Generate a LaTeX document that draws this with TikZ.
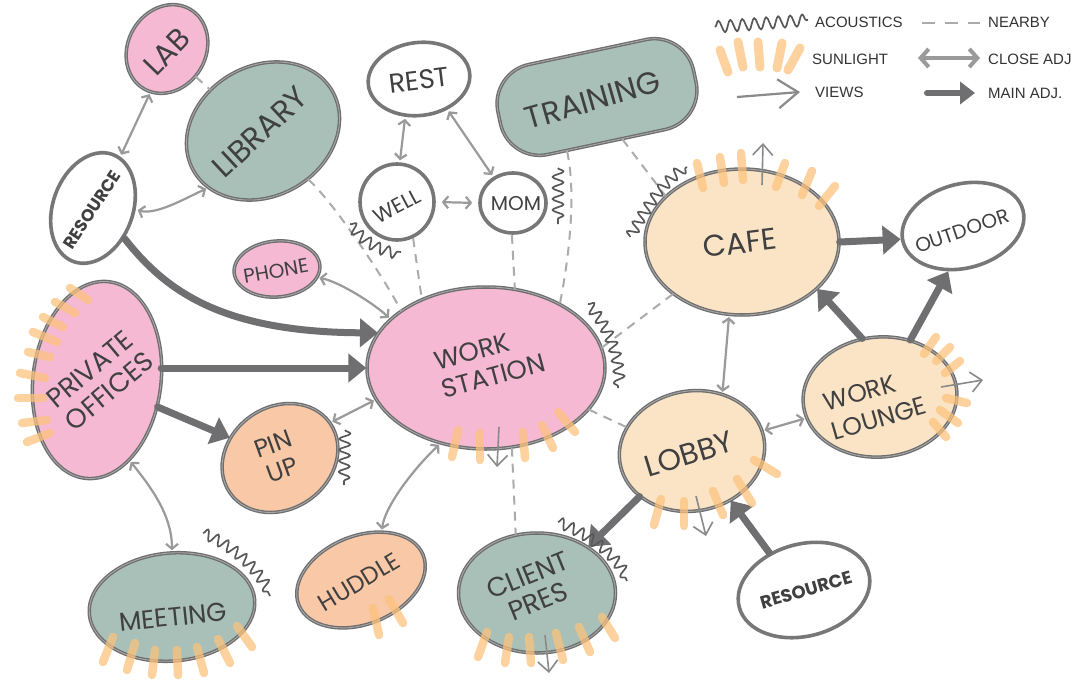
\documentclass[tikz,border=0pt]{standalone}
\usepackage{fontspec}
\setmainfont{Poppins}
\newfontfamily\legfont{Liberation Sans}
\usetikzlibrary{shapes.geometric,arrows.meta,decorations.pathmorphing,calc}
\definecolor{pinkf}{HTML}{F5B9D4}
\definecolor{sagef}{HTML}{A9C0B8}
\definecolor{peachf}{HTML}{FBE4C6}
\definecolor{orangef}{HTML}{F9C8A6}
\definecolor{olc}{HTML}{6E6E6E}
\definecolor{olc2}{HTML}{A8A8A8}
\definecolor{wol}{HTML}{777777}
\definecolor{suncol}{HTML}{FDC27A}
\definecolor{mcol}{HTML}{6F6F72}
\definecolor{ccol}{HTML}{9A9A9A}
\definecolor{ncol}{HTML}{ABABAB}
\definecolor{vcol}{HTML}{8A8A8A}
\definecolor{acol}{HTML}{585858}
\definecolor{tcol}{HTML}{404040}
\definecolor{legcol}{HTML}{333333}
\newcommand\fsz[2]{\fontsize{#1}{#2}\selectfont}
\begin{document}
\begin{tikzpicture}[x=1pt,y=-1pt,
  bub/.style={ellipse, inner sep=0pt, draw=olc, line width=1.3pt, double=olc2, double distance=0.9pt},
  wbub/.style={ellipse, inner sep=0pt, draw=wol, line width=3.6pt, fill=white},
  txt/.style={text=tcol, inner sep=0pt, align=center},
  legtxt/.style={text=legcol, inner sep=0pt, anchor=west, font=\legfont\fsz{15}{15}},
  mainadj/.style={draw=mcol, line width=7pt, line cap=round, -{Triangle[length=18pt,width=28pt]}},
  closeadj/.style={draw=ccol, line width=2.2pt, shorten >=2pt, shorten <=2pt, {Straight Barb[length=5pt,width=12pt]}-{Straight Barb[length=5pt,width=12pt]}},
  nearby/.style={draw=ncol, line width=2pt, dash pattern=on 9pt off 7pt},
  viewarr/.style={draw=vcol, line width=1.6pt, -{Straight Barb[length=11pt,width=20pt]}},
  acou/.style={draw=acol, line width=1.7pt, line join=round, decorate, decoration={snake, segment length=11pt, amplitude=5.5pt}},
  sun/.style={draw=suncol, line width=8.5pt, line cap=round, opacity=.72}]
\fill[white] (0,0) rectangle (1076,680);
\useasboundingbox (0,0) rectangle (1076,680);

% ---------- bubbles ----------
\node[bub, fill=pinkf, minimum width=92pt, minimum height=78pt, rotate=60] (lab) at (167,49) {};
\node[txt, rotate=46, font=\fsz{30}{30}] (labT) at (167,52) {LAB};
\node[bub, fill=sagef, minimum width=160pt, minimum height=130pt, rotate=30] (lib) at (263,131) {};
\node[txt, rotate=43, font=\fsz{31}{31}] (libT) at (260,132) {LIBRARY};
\node[wbub, minimum width=114pt, minimum height=80pt, rotate=70] (res1) at (93,208) {};
\node[txt, rotate=57, font=\bfseries\fsz{17}{17}] (res1T) at (92,210) {RESOURCE};
\node[wbub, minimum width=102pt, minimum height=73pt, rotate=7] (rest) at (419,79) {};
\node[txt, rotate=7, font=\fsz{27}{27}] (restT) at (419,80) {REST};
\node[wbub, minimum width=74pt, minimum height=76pt] (well) at (397,202) {};
\node[txt, rotate=28, font=\fsz{21}{21}] (wellT) at (397,206) {WELL};
\node[wbub, minimum width=66pt, minimum height=60pt] (mom) at (513,203) {};
\node[txt, font=\fsz{20}{20}] (momT) at (516,204) {MOM};
\node[draw=olc, line width=1.3pt, double=olc2, double distance=0.9pt, fill=sagef, rectangle, rounded corners=40pt, minimum width=200pt, minimum height=92pt, rotate=12] (train) at (597,97) {};
\node[txt, rotate=16, font=\fsz{31}{31}] (trainT) at (593,100) {TRAINING};
\node[bub, fill=pinkf, minimum width=86pt, minimum height=56pt, rotate=5] (phone) at (277,269) {};
\node[txt, rotate=10, font=\fsz{20}{20}] (phoneT) at (276,271) {PHONE};
\node[bub, fill=peachf, minimum width=194pt, minimum height=146pt] (cafe) at (742,242) {};
\node[txt, rotate=7, font=\fsz{30}{30}] (cafeT) at (740,243) {CAFE};
\node[wbub, minimum width=124pt, minimum height=84pt, rotate=15] (outd) at (963,226) {};
\node[txt, rotate=19, font=\fsz{20}{20}] (outdT) at (962,231) {OUTDOOR};
\node[bub, fill=pinkf, minimum width=128pt, minimum height=198pt, rotate=-7] (priv) at (97,380) {};
\node[txt, rotate=40, align=left, font=\fsz{27}{29}] (privT) at (100,380) {PRIVATE\\OFFICES};
\node[bub, fill=pinkf, minimum width=238pt, minimum height=162pt] (ws) at (486,368) {};
\node[txt, rotate=15, align=left, font=\fsz{26}{29}] (wsT) at (490,362) {WORK\\STATION};
\node[bub, fill=orangef, minimum width=122pt, minimum height=102pt, rotate=35] (pin) at (280,458) {};
\node[txt, rotate=20, font=\fsz{25}{27}] (pinT) at (278,457) {PIN\\UP};
\node[bub, fill=peachf, minimum width=146pt, minimum height=120pt, rotate=10] (lobby) at (692,451) {};
\node[txt, rotate=17, font=\fsz{30}{30}] (lobbyT) at (689,454) {LOBBY};
\node[bub, fill=peachf, minimum width=154pt, minimum height=120pt, rotate=5] (lounge) at (880,397) {};
\node[txt, rotate=16, align=left, font=\fsz{25}{30}] (loungeT) at (875,404) {WORK\\LOUNGE};
\node[bub, fill=sagef, minimum width=166pt, minimum height=108pt, rotate=5] (meet) at (172,607) {};
\node[txt, rotate=6, font=\fsz{26}{26}] (meetT) at (173,617) {MEETING};
\node[bub, fill=orangef, minimum width=134pt, minimum height=88pt, rotate=22] (hud) at (361,580) {};
\node[txt, rotate=31, font=\fsz{24}{24}] (hudT) at (359,582) {HUDDLE};
\node[bub, fill=sagef, minimum width=157pt, minimum height=120pt] (client) at (537,593) {};
\node[txt, rotate=22, font=\fsz{27}{28}] (clientT) at (533,588) {CLIENT\\PRES};
\node[wbub, minimum width=134pt, minimum height=92pt, rotate=15] (res2) at (804,590) {};
\node[txt, rotate=16, font=\bfseries\fsz{18}{18}] (res2T) at (806,590) {RESOURCE};

% ---------- nearby ----------
\draw[nearby] (lab.256) -- (lib.112);
\draw[nearby] (lib.283) .. controls +(25,22) and +(-15,-30) .. (ws.146);
\draw[nearby] (well.294) -- (ws.133);
\draw[nearby] (mom.268) -- (ws.70);
\draw[nearby] (train.229) .. controls +(10,45) and +(8,-40) .. (ws.41);
\draw[nearby] (train.289) -- (cafe.149);
\draw[nearby] (cafe.217) -- (ws.10);
\draw[nearby] (ws.338) -- (lobby.150);
\draw[nearby] (ws.288) -- (client.110);

% ---------- close adjacency ----------
\draw[closeadj] (lab.189) -- (res1.352);
\draw[closeadj] (res1.288) .. controls +(20,6) and +(-22,10) .. (lib.196);
\draw[closeadj] (rest.243) -- (well.86);
\draw[closeadj] (rest.306) -- (mom.127);
\draw[closeadj, shorten >=6pt, shorten <=6pt] (well.0) -- (mom.180);
\draw[closeadj] (phone.343) .. controls +(22,4) and +(-14,-14) .. (ws.153);
\draw[closeadj] (pin.0) -- (ws.196);
\draw[closeadj] (priv.299) .. controls +(20,25) and +(0,-38) .. (meet.85);
\draw[closeadj] (hud.45) .. controls +(4,-28) and +(-22,20) .. (ws.239);
\draw[closeadj] (cafe.260) -- (lobby.52);
\draw[closeadj] (lobby.6) -- (lounge.191);

% ---------- main adjacency ----------
\draw[mainadj] (res1.246) .. controls (165,290) and (220,332) .. (ws.162);
\draw[mainadj] (priv.east |- ws.west) -- (ws.west);
\draw[mainadj] (priv.343) -- (pin.123);
\draw[mainadj] (cafe.0) -- (outd.177);
\draw[mainadj] (lounge.102) -- (cafe.328);
\draw[mainadj] (lounge.57) -- (outd.237);
\draw[mainadj] (lobby.211) -- (client.42);
\draw[mainadj] (res2.118) -- (lobby.298);

% ---------- views ----------
\draw[viewarr] ($(cafe.center)+(20,-57)$) -- ++(1,-42);
\draw[viewarr] ($(ws.center)+(13,59)$) -- ++(-2,40);
\draw[viewarr] ($(lounge.center)+(61,-10)$) -- ++(42,-7);
\draw[viewarr] ($(lobby.center)+(4,45)$) -- ++(10,40);
\draw[viewarr] ($(client.center)+(8,42)$) -- ++(4,38);

% ---------- acoustics ----------
\draw[acou] (558,168) -- (558,224);
\draw[acou] (350,224) .. controls (363,241) and (380,250) .. (401,252);
\draw[acou] (630,237) .. controls (645,210) and (660,185) .. (687,167);
\draw[acou] (588,304) .. controls (606,325) and (618,350) .. (618,388);
\draw[acou] (345,430) -- (344,485);
\draw[acou] (203,533) .. controls (230,545) and (255,565) .. (270,596);
\draw[acou] (558,522) .. controls (590,535) and (615,555) .. (627,581);

% ---------- sunlight ----------
\foreach \a/\b/\c/\d in {697/163/703/188, 720/157/724/183, 741/153/743/180, 785/163/776/187, 812/171/802/195, 835/186/819/206,
  458/430/452/457, 480/433/480/460, 523/432/525/458, 542/425/553/448, 558/412/575/432,
  70/288/88/300, 55/302/75/313, 43/317/63/327, 33/332/57/342, 28/352/50/357, 20/373/45/378, 18/398/43/398, 22/423/47/420, 27/442/50/433,
  936/337/924/354, 950/347/936/361, 960/361/945/373, 946/398/967/403, 940/410/958/423, 933/422/946/437,
  754/460/777/474, 737/479/752/503, 713/491/723/515, 684/501/684/526, 661/499/654/525,
  113/637/103/662, 135/643/127/670, 155/650/152/675, 177/650/178/675, 197/647/204/673, 218/639/230/663, 237/626/252/647,
  373/608/379/635, 389/599/403/623,
  487/632/478/657, 509/637/505/663, 529/637/531/663, 556/633/563/660, 579/627/590/652, 602/617/615/638}
  \draw[sun] (\a,\b) -- (\c,\d);

% ---------- legend ----------
\draw[acou, decoration={snake, segment length=12pt, amplitude=6pt}] (715,27) -- (808,20);
\node[legtxt] (lgA) at (815,22) {ACOUSTICS};
\draw[nearby, dash pattern=on 13pt off 10pt] (922,23) -- (980,23);
\node[legtxt] (lgN) at (988,22) {NEARBY};
\foreach \a/\b/\c/\d in {720/50/728/72, 738/42/743/67, 758/42/760/67, 782/43/777/68, 800/48/788/70}
  \draw[sun, line width=9pt] (\a,\b) -- (\c,\d);
\node[legtxt] (lgS) at (812,59) {SUNLIGHT};
\draw[draw=ccol, line width=4pt, {Straight Barb[length=8pt,width=18pt]}-{Straight Barb[length=8pt,width=18pt]}] (918,58) -- (980,58);
\node[legtxt] (lgC) at (988,59) {CLOSE ADJ};
\draw[draw=vcol, line width=2.2pt, -{Straight Barb[length=20pt,width=29pt]}] (737,97) -- (800,92);
\node[legtxt] (lgV) at (815,92) {VIEWS};
\draw[draw=mcol, line width=6pt, line cap=round, -{Triangle[length=15pt,width=22pt]}] (927,93) -- (975,93);
\node[legtxt] (lgM) at (988,93) {MAIN ADJ.};
\end{tikzpicture}
\end{document}
